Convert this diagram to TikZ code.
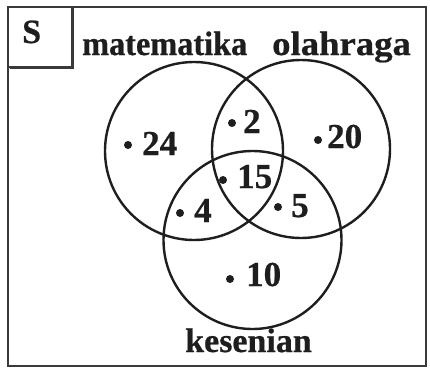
\documentclass[tikz,border=0pt]{standalone}
\usepackage{fontspec}
\setmainfont{Liberation Serif}
\newfontfamily\heavyserif{Liberation Serif}[BoldFont={* Bold}, BoldFeatures={FakeBold=0.6}]
\definecolor{ink}{HTML}{1E1E1E}
\definecolor{frame}{HTML}{3A3A3A}
\tikzset{
  setc/.style={circle, draw=ink, line width=2.4pt, minimum size=178pt, inner sep=0pt},
  lbl/.style={font=\heavyserif\fontsize{34}{34}\selectfont\bfseries, text=ink, anchor=base west, inner sep=0pt},
  num/.style={font=\heavyserif\fontsize{35}{35}\selectfont\bfseries, text=ink, anchor=base west, inner sep=0pt},
  pt/.style={circle, fill=ink, minimum size=8pt, inner sep=0pt},
}
\begin{document}
\begin{tikzpicture}[x=1pt, y=-1pt]
\useasboundingbox (0,0) rectangle (430,367);
\fill[white] (0,0) rectangle (430,367);
% frame
\draw[frame, line width=2pt] (8,7) rectangle (426,366);
\draw[frame, line width=2pt] (8,67) -- (72,67) -- (72,7);
\draw[frame, line width=1.2pt] (9.5,68.5) -- (73.5,68.5) -- (73.5,8);
% sets
\node[setc] (M) at (194,151) {};
\node[setc] (O) at (301,149) {};
\node[setc] (K) at (252.5,240) {};
% labels
\node[lbl] (S) at (22,43) {S};
\node[lbl] (lm) at (82,55) {\scalebox{0.95}[1]{matematika}};
\node[lbl] (lo) at (272,55) {\scalebox{1.08}[1]{olahraga}};
\node[lbl] (lk) at (185,352) {kesenian};
% elements
\node[pt] (d24) at (128,145) {};
\node[num] (n24) at (142,155) {24};
\node[pt] (d2) at (232,123) {};
\node[num] (n2) at (243,133) {2};
\node[pt] (d20) at (318,140) {};
\node[num] (n20) at (327,148) {20};
\node[pt] (d15) at (223,180) {};
\node[num] (n15) at (237,188) {15};
\node[pt] (d4) at (180,213) {};
\node[num] (n4) at (194,222) {4};
\node[pt] (d5) at (278,207) {};
\node[num] (n5) at (291,217) {5};
\node[pt] (d10) at (230,279) {};
\node[num] (n10) at (246,286) {10};
\end{tikzpicture}
\end{document}
